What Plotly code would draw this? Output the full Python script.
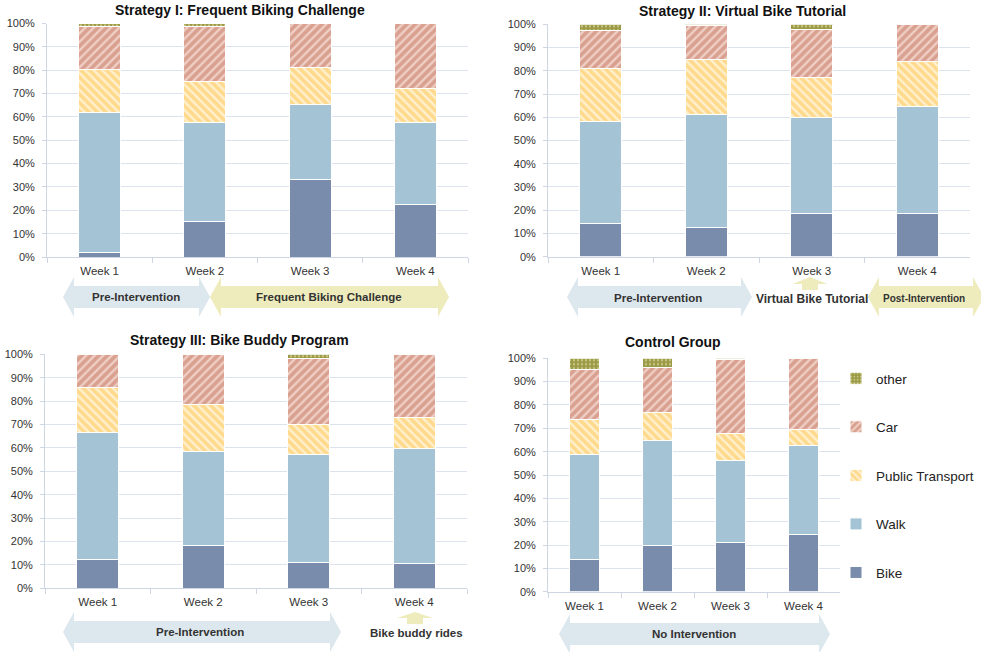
import plotly.graph_objects as go

weeks = ["Week 1", "Week 2", "Week 3", "Week 4"]
modes = ["Bike", "Walk", "Public Transport", "Car", "other"]

titles = ["Strategy I: Frequent Biking Challenge", "Strategy II: Virtual Bike Tutorial",
          "Strategy III: Bike Buddy Program", "Control Group"]

# shares (%) per panel: Bike, Walk, Public Transport, Car, other
s1_bike = [2.1, 15.3, 33.4, 22.4]
s1_walk = [60.0, 42.4, 32.0, 35.3]
s1_pt = [18.3, 17.6, 15.7, 14.4]
s1_car = [18.2, 23.3, 18.9, 27.9]
s1_other = [1.4, 1.4, 0.0, 0.0]

s2_bike = [14.1, 12.5, 18.5, 18.5]
s2_walk = [43.9, 48.9, 41.2, 46.3]
s2_pt = [22.8, 23.5, 17.5, 19.3]
s2_car = [16.5, 14.5, 20.5, 15.9]
s2_other = [2.7, 0.6, 2.3, 0.0]

s3_bike = [12.3, 18.2, 11.1, 10.7]
s3_walk = [54.2, 40.3, 46.0, 49.1]
s3_pt = [19.3, 20.1, 13.0, 13.4]
s3_car = [14.2, 21.4, 28.3, 26.8]
s3_other = [0.0, 0.0, 1.6, 0.0]

s4_bike = [13.9, 19.7, 21.0, 24.3]
s4_walk = [44.7, 45.0, 35.3, 38.3]
s4_pt = [15.3, 12.2, 11.6, 7.0]
s4_car = [21.5, 19.1, 31.4, 30.4]
s4_other = [4.6, 4.0, 0.7, 0.0]

panels = [
    [s1_bike, s1_walk, s1_pt, s1_car, s1_other],
    [s2_bike, s2_walk, s2_pt, s2_car, s2_other],
    [s3_bike, s3_walk, s3_pt, s3_car, s3_other],
    [s4_bike, s4_walk, s4_pt, s4_car, s4_other],
]

W, H = 981, 652
def px(x):
    return x / W
def py(y):
    return 1 - y / H

# plot areas in pixels: (x0, x1, y_bottom(0%), y_top(100%))
areas = [(47, 468, 257, 23.5), (548, 970, 256.7, 24.3), (45, 467, 588.3, 354.3), (548, 840, 591.7, 358.3)]

styles = {
    "Bike": dict(color="#7a8cab"),
    "Walk": dict(color="#a4c3d4"),
    "Public Transport": dict(color="#ffd98c", pattern=dict(shape="\\", bgcolor="#ffd98c", fgcolor="#fff1cf", size=6, solidity=0.4, fillmode="replace")),
    "Car": dict(color="#d9a090", pattern=dict(shape="/", bgcolor="#d9a090", fgcolor="#efcfc4", size=6, solidity=0.4, fillmode="replace")),
    "other": dict(color="#9b9a45", pattern=dict(shape=".", bgcolor="#9b9a45", fgcolor="#c9c88a", size=4, solidity=0.25, fillmode="replace")),
}
ranks = {"other": 1, "Car": 2, "Public Transport": 3, "Walk": 4, "Bike": 5}

fig = go.Figure()
grid = "#dde3ee"
axcol = "#cfd6e3"
for p, (vals, area) in enumerate(zip(panels, areas)):
    n = "" if p == 0 else str(p + 1)
    for m, v in zip(modes, vals):
        st = styles[m]
        marker = dict(color=st["color"], line=dict(color="white", width=1))
        if "pattern" in st:
            marker["pattern"] = st["pattern"]
        fig.add_trace(go.Bar(
            x=weeks, y=v, name=m, marker=marker, xaxis="x" + n, yaxis="y" + n,
            showlegend=(p == 3), legendgroup=m, legendrank=ranks[m],
            hovertemplate="%{x}<br>" + m + ": %{y:.1f}%<extra></extra>",
        ))
    x0, x1, yb, yt = area
    fig.layout["xaxis" + n] = dict(
        domain=[px(x0), px(x1)], anchor="y" + n, showline=True, linecolor=axcol, linewidth=1,
        ticks="outside", tickson="boundaries", ticklen=5, tickcolor=axcol, ticklabelstandoff=3,
        automargin=False,
        tickfont=dict(size=11.5, color="#333333", family="Liberation Sans, Arial"), showgrid=False,
    )
    fig.layout["yaxis" + n] = dict(
        domain=[py(yb), py(yt)], anchor="x" + n, range=[0, 100], tickvals=list(range(0, 101, 10)),
        ticktext=[f"{t}%" for t in range(0, 101, 10)], showline=True, linecolor=axcol, linewidth=1,
        ticks="outside", ticklen=4, tickcolor=axcol, gridcolor=grid, gridwidth=1, zeroline=False,
        ticklabelstandoff=5, automargin=False,
        tickfont=dict(size=11, color="#333333", family="Liberation Sans, Arial"),
    )

shapes = []
annotations = []
# titles
title_pos = [(240, 10), (742, 11), (239, 340), (673, 342)]
for t, (tx, ty) in zip(titles, title_pos):
    annotations.append(dict(text=f"<b>{t}</b>", x=px(tx), y=py(ty), xref="paper", yref="paper",
                            xanchor="center", yanchor="middle",
                            showarrow=False, font=dict(size=14, color="#111111", family="Liberation Sans, Arial")))

BLUE = "#dde7ee"
KHAKI = "#eeecbc"

def double_arrow(xl, xr, yc, hh, bh, head, color):
    path = (f"M {px(xl)} {py(yc)} L {px(xl+head)} {py(yc-hh)} L {px(xl+head)} {py(yc-bh)} "
            f"L {px(xr-head)} {py(yc-bh)} L {px(xr-head)} {py(yc-hh)} L {px(xr)} {py(yc)} "
            f"L {px(xr-head)} {py(yc+hh)} L {px(xr-head)} {py(yc+bh)} L {px(xl+head)} {py(yc+bh)} "
            f"L {px(xl+head)} {py(yc+hh)} Z")
    return dict(type="path", path=path, xref="paper", yref="paper", fillcolor=color, line=dict(width=0), layer="below")

def up_arrow(xc, ytop, headw, headh, stemw, ybot, color):
    path = (f"M {px(xc)} {py(ytop)} L {px(xc+headw/2)} {py(ytop+headh)} L {px(xc+stemw/2)} {py(ytop+headh)} "
            f"L {px(xc+stemw/2)} {py(ybot)} L {px(xc-stemw/2)} {py(ybot)} L {px(xc-stemw/2)} {py(ytop+headh)} "
            f"L {px(xc-headw/2)} {py(ytop+headh)} Z")
    return dict(type="path", path=path, xref="paper", yref="paper", fillcolor=color, line=dict(width=0), layer="below")

shapes.append(double_arrow(63, 210, 297, 20, 11, 11, BLUE))
shapes.append(double_arrow(210, 449, 297, 20, 11, 11, KHAKI))
shapes.append(double_arrow(567, 752, 297, 20, 11, 11, BLUE))
shapes.append(double_arrow(868, 984, 297, 20, 11, 11, KHAKI))
shapes.append(up_arrow(810, 277, 35, 7, 16, 290, KHAKI))
shapes.append(double_arrow(63, 341, 632, 20, 11, 11, BLUE))
shapes.append(up_arrow(415, 612, 36, 6, 16, 624, KHAKI))
shapes.append(double_arrow(559, 830, 634, 20, 11, 11, BLUE))

lab_font = dict(size=11.5, color="#333333", family="Liberation Sans, Arial")
for txt, x, y, sz in [("Pre-Intervention", 136, 297, 11.5), ("Frequent Biking Challenge", 329, 297, 11.5),
                      ("Pre-Intervention", 658, 298, 11.5), ("Virtual Bike Tutorial", 812, 299, 12),
                      ("Post-Intervention", 924, 298, 10), ("Pre-Intervention", 200, 632, 11.5),
                      ("Bike buddy rides", 416, 633, 11.5), ("No Intervention", 694, 634, 11.5)]:
    annotations.append(dict(text=f"<b>{txt}</b>", x=px(x), y=py(y), xref="paper", yref="paper", showarrow=False,
                            xanchor="center", yanchor="middle", font=dict(lab_font, size=sz)))

fig.update_layout(
    width=W, height=H, margin=dict(l=0, r=0, t=0, b=0, autoexpand=False), autosize=False,
    paper_bgcolor="white", plot_bgcolor="white", barmode="stack", bargap=0.6,
    shapes=shapes, annotations=annotations,
    legend=dict(x=px(836), y=py(363), xanchor="left", yanchor="top", traceorder="grouped",
                tracegroupgap=28, font=dict(size=13.5, color="#222222", family="Liberation Sans, Arial"),
                bgcolor="rgba(0,0,0,0)"),
)

fig.write_html("out.html")
